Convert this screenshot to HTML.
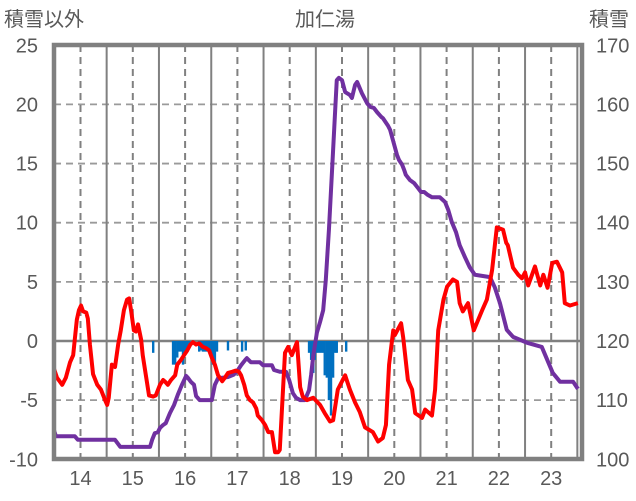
<!DOCTYPE html>
<html><head><meta charset="utf-8">
<style>
html,body{margin:0;padding:0;background:#fff;}
svg{display:block;font-family:"Liberation Sans","Noto Sans CJK JP",sans-serif;}
</style></head>
<body>
<svg id="chart" width="636" height="501" viewBox="0 0 636 501"></svg>
<script>
const redDays=[13.49,13.55,13.65,13.72,13.80,13.86,13.89,13.93,13.97,14.01,14.05,14.11,14.14,14.18,14.24,14.32,14.39,14.47,14.51,14.54,14.60,14.66,14.72,14.77,14.83,14.89,14.93,14.97,15.02,15.06,15.10,15.16,15.19,15.25,15.31,15.39,15.44,15.52,15.58,15.63,15.67,15.73,15.81,15.85,15.92,15.98,16.04,16.10,16.15,16.21,16.27,16.34,16.40,16.46,16.51,16.57,16.63,16.71,16.76,16.82,16.90,16.97,17.03,17.07,17.13,17.18,17.24,17.30,17.36,17.39,17.47,17.53,17.59,17.66,17.72,17.78,17.81,17.91,17.97,18.04,18.14,18.20,18.25,18.33,18.45,18.58,18.67,18.77,18.83,18.92,19.06,19.15,19.25,19.34,19.44,19.59,19.69,19.78,19.84,19.90,19.98,20.01,20.13,20.17,20.26,20.34,20.40,20.53,20.59,20.72,20.78,20.84,20.94,21.01,21.12,21.20,21.25,21.31,21.41,21.52,21.68,21.77,21.87,21.96,22.08,22.14,22.17,22.27,22.37,22.44,22.50,22.56,22.69,22.79,22.85,22.93,23.02,23.11,23.21,23.26,23.36,23.51];
const redValues=[-2.3,-3.1,-3.7,-3.1,-1.8,-1.2,0.1,1.8,2.6,3.0,2.5,2.4,1.9,-0.3,-2.8,-3.7,-4.1,-5.0,-5.4,-4.8,-2.0,-2.2,-0.3,0.9,2.6,3.5,3.6,2.5,0.9,0.8,1.4,0.1,-1.2,-2.9,-4.6,-4.7,-4.6,-3.7,-3.3,-3.5,-3.7,-3.3,-2.9,-2.0,-1.6,-1.2,-0.8,-0.3,-0.1,-0.3,-0.2,-0.5,-0.6,-0.8,-1.4,-2.0,-2.9,-3.4,-3.1,-2.7,-2.6,-2.5,-2.6,-2.9,-3.7,-4.6,-5.0,-5.2,-5.7,-6.3,-6.7,-7.1,-7.7,-7.7,-9.4,-9.4,-9.2,-1.0,-0.5,-1.2,-0.1,-3.9,-4.7,-5.0,-4.8,-5.4,-6.1,-6.8,-6.7,-4.1,-2.9,-4.1,-5.2,-6.0,-7.3,-7.7,-8.5,-8.2,-7.1,-2.0,0.9,0.5,1.5,0.3,-3.3,-4.1,-6.1,-6.5,-5.8,-6.3,-4.1,0.9,3.5,4.6,5.2,5.0,3.2,2.5,3.2,0.9,2.6,3.5,6.0,9.6,9.4,8.3,8.1,6.2,5.6,5.3,5.8,4.7,6.3,4.7,5.6,4.5,6.6,6.7,5.8,3.2,3.0,3.2];
const snowDays=[13.49,13.53,13.89,13.95,14.66,14.76,15.33,15.37,15.42,15.48,15.52,15.58,15.63,15.71,15.79,15.86,15.94,16.02,16.06,16.11,16.17,16.21,16.28,16.51,16.57,16.63,16.82,16.93,17.01,17.07,17.15,17.18,17.26,17.43,17.49,17.66,17.70,17.81,17.93,17.99,18.06,18.12,18.20,18.29,18.37,18.41,18.45,18.52,18.58,18.64,18.69,18.75,18.81,18.87,18.90,18.94,19.00,19.06,19.15,19.19,19.25,19.29,19.38,19.48,19.54,19.61,19.67,19.75,19.78,19.88,19.92,20.01,20.05,20.09,20.15,20.19,20.22,20.30,20.38,20.45,20.51,20.57,20.64,20.72,20.87,20.97,21.03,21.10,21.18,21.25,21.35,21.44,21.54,21.83,21.92,22.02,22.15,22.27,22.54,22.82,23.03,23.17,23.42,23.51];
const snowValues=[105.0,103.9,103.9,103.3,103.3,102.1,102.1,103.3,104.4,104.6,105.3,105.8,106.1,107.8,109.2,110.9,112.6,114.1,113.7,113.1,112.6,110.7,110.0,110.0,112.6,113.7,113.9,114.3,115.1,115.9,116.8,117.1,116.4,116.4,115.9,115.9,115.1,114.8,114.8,113.4,111.2,110.4,110.0,110.0,111.7,114.3,117.5,121.4,123.2,125.2,130.3,138.8,148.9,159.1,164.1,164.5,164.1,162.1,161.6,161.1,163.3,163.8,161.9,160.2,159.6,159.4,158.7,157.9,157.7,156.4,155.7,152.8,151.5,150.6,149.8,148.9,148.1,147.2,146.7,145.9,145.2,145.2,144.7,144.3,144.3,143.5,142.2,140.1,138.4,136.2,134.2,132.5,131.2,130.8,129.1,126.4,121.9,120.7,119.7,119.0,114.6,113.1,113.1,111.9];
const barDays=[15.39,15.77,15.81,15.85,15.88,15.92,15.96,16.00,16.04,16.08,16.27,16.30,16.34,16.38,16.42,16.46,16.50,16.53,16.57,16.61,16.82,17.09,17.16,18.37,18.41,18.45,18.48,18.52,18.56,18.60,18.64,18.67,18.71,18.75,18.79,18.83,18.87,18.90,19.08];
const barValues=[-1.0,-2.0,-2.0,-1.4,-0.9,-0.9,-2.0,-0.9,-0.9,-0.5,-0.9,-0.8,-0.9,-0.9,-0.9,-0.9,-1.2,-2.0,-2.0,-0.9,-0.8,-0.9,-0.8,-1.0,-1.6,-2.7,-1.6,-1.0,-1.0,-1.0,-1.0,-2.9,-3.1,-5.0,-6.3,-3.1,-1.0,-1.0,-0.9];
const leftTicks=[25,20,15,10,5,0,-5,-10];
const rightTicks=[170,160,150,140,130,120,110,100];
const dayTicks=[14,15,16,17,18,19,20,21,22,23];

const NS='http://www.w3.org/2000/svg';
const svg=document.getElementById('chart');
const L=54,R=582,T=45,B=459;
const xS=d=>80.5+(d-14)*52.3;
const yL=v=>341-v*11.83;
const yR=v=>341-(v-120)*5.914;
function mk(tag,attrs,parent){const e=document.createElementNS(NS,tag);for(const k in attrs)e.setAttribute(k,attrs[k]);(parent||svg).appendChild(e);return e;}

const grid=mk('g',{});


leftTicks.forEach(v=>{
  if(v===25||v===-10)return;
  const y=yL(v);
  const ln=mk('line',{x1:L,x2:R,y1:y,y2:y,stroke:v===0?'#808080':'#9a9a9a','stroke-width':v===0?2.5:1.8,'stroke-dasharray':v===0?'none':'7,5'},grid);
  
  
});
for(let d=14;d<=23.5;d+=0.5){
  const x=xS(d);
  const isDay=Math.abs(d-Math.round(d))<0.01;
  const ln=mk('line',{x1:x,x2:x,y1:T,y2:B,stroke:'#808080','stroke-width':2,'stroke-dasharray':isDay?'7,5':'none'},grid);
  
  
}

const bars=mk('g',{});


barDays.forEach((d,i)=>{
  const v=barValues[i];
  const r=mk('rect',{x:xS(d)-1.2,y:yL(0),width:2.4,height:yL(v)-yL(0),fill:'#0070c0'},bars);
  
  
});

const sp=mk('polyline',{points:snowDays.map((d,i)=>xS(d)+','+yR(snowValues[i])).join(' '),fill:'none',stroke:'#7030a0','stroke-width':4,'stroke-linejoin':'round'});


const rp=mk('polyline',{points:redDays.map((d,i)=>xS(d)+','+yL(redValues[i])).join(' '),fill:'none',stroke:'#ff0000','stroke-width':4,'stroke-linejoin':'round'});



const fr=mk('rect',{x:L,y:T,width:R-L,height:B-T,fill:'none',stroke:'#808080','stroke-width':4.5});



leftTicks.forEach(v=>{
  const t=mk('text',{x:38,y:yL(v)+7,'text-anchor':'end','font-size':20,fill:'#595959'});
  t.textContent=v;
  
  
});
rightTicks.forEach(v=>{
  const t=mk('text',{x:596,y:yR(v)+7,'text-anchor':'start','font-size':20,fill:'#595959'});
  t.textContent=v;
  
  
});
dayTicks.forEach(d=>{
  const t=mk('text',{x:xS(d),y:485,'text-anchor':'middle','font-size':20,fill:'#595959'});
  t.textContent=d;
  
  
});
const t1=mk('text',{x:4,y:26,'font-size':20,fill:'#595959'});t1.textContent='積雪以外';


const t2=mk('text',{x:325,y:26,'text-anchor':'middle','font-size':20,fill:'#595959'});t2.textContent='加仁湯';


const t3=mk('text',{x:589,y:26,'font-size':20,fill:'#595959'});t3.textContent='積雪';


</script>
</body></html>
